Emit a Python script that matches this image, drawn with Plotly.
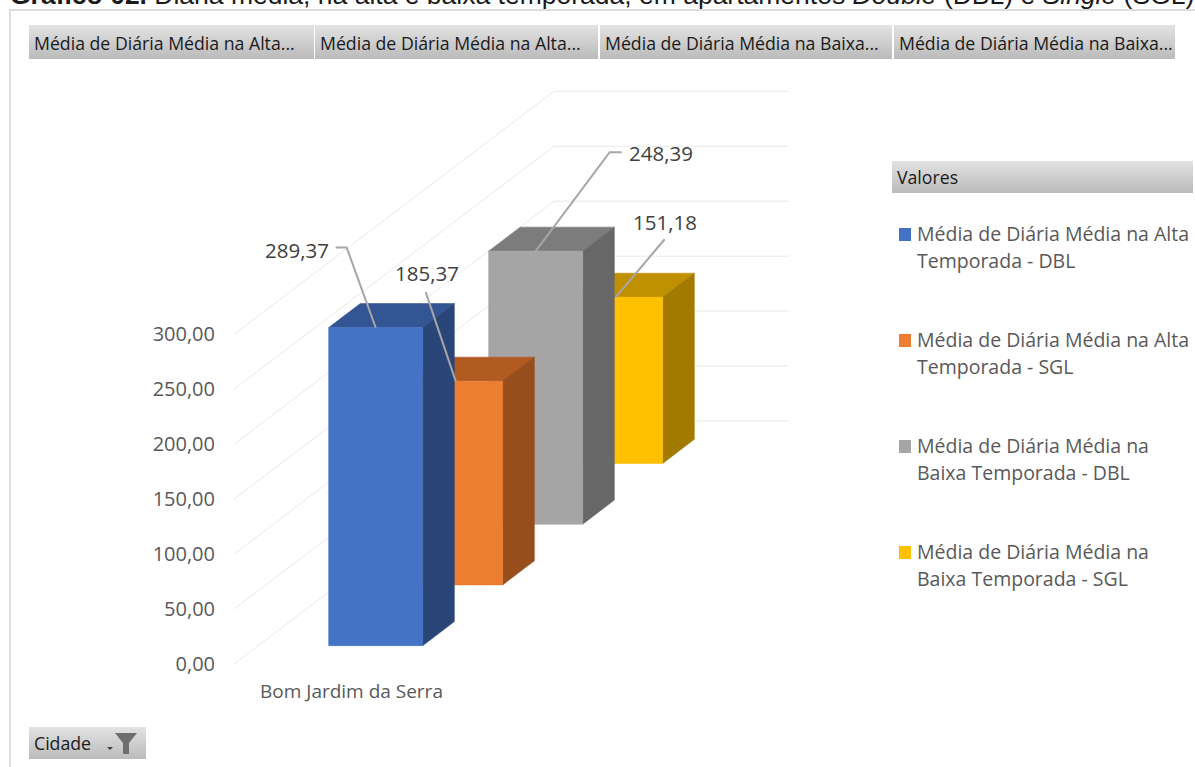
import plotly.graph_objects as go

# ---------- data ----------
categories = ["Bom Jardim da Serra"]
series_names = [
    "Média de Diária Média na Alta Temporada - DBL",
    "Média de Diária Média na Alta Temporada - SGL",
    "Média de Diária Média na Baixa Temporada - DBL",
    "Média de Diária Média na Baixa Temporada - SGL",
]
alta_dbl = [289.37]
alta_sgl = [185.37]
baixa_dbl = [248.39]
baixa_sgl = [151.18]
series_values = [alta_dbl, alta_sgl, baixa_dbl, baixa_sgl]
value_ticks = [0, 50, 100, 150, 200, 250, 300]
header_labels = [
    "Média de Diária Média na Alta...",
    "Média de Diária Média na Alta...",
    "Média de Diária Média na Baixa...",
    "Média de Diária Média na Baixa...",
]
legend_lines = [
    ["Média de Diária Média na Alta", "Temporada - DBL"],
    ["Média de Diária Média na Alta", "Temporada - SGL"],
    ["Média de Diária Média na", "Baixa Temporada - DBL"],
    ["Média de Diária Média na", "Baixa Temporada - SGL"],
]

# ---------- styles ----------
front = ["#4472C4", "#ED7D31", "#A5A5A5", "#FFC000"]
top_c = ["#335593", "#B15B22", "#7C7C7C", "#BF9000"]
side = ["#2A4678", "#974D1C", "#676767", "#A27A00"]
FONT = "Open Sans"
GREY = "#595959"
W, H = 1195, 767
PX = 1.099             # pixels per value unit
FLOOR_Y = 664          # pixel row of the value 0
X0 = 234               # left end of the floor
DEPTH_X, DEPTH_Y = 320, 243
CAT_W = 235
ROW = 0.25
BAR_D = 0.0988
BAR_U = (0.30, 0.70)
PLOT_L, PLOT_R, PLOT_T, PLOT_B = 216, 790, 80, 678


def project(u, d, v):
    return X0 + u * CAT_W + d * DEPTH_X, v + d * DEPTH_Y / PX


fig = go.Figure()

# gridlines: oblique wall and back wall
for t in value_ticks:
    a = project(0, 0, t)
    b = project(0, 1, t)
    c = project(1, 1, t)
    fig.add_trace(go.Scatter(x=[a[0], b[0], c[0]], y=[a[1], b[1], c[1]], mode="lines",
                             line=dict(color="#E9E9E9", width=1), showlegend=False, hoverinfo="skip"))

# bars from back to front
anchors = {}
for i in reversed(range(len(series_values))):
    v = series_values[i][0]
    d0 = 0.125 + ROW * i - BAR_D / 2
    d1 = d0 + BAR_D
    u0, u1 = BAR_U
    faces = [
        (top_c[i], [(u0, d0, v), (u1, d0, v), (u1, d1, v), (u0, d1, v)]),
        (side[i], [(u1, d0, 0), (u1, d1, 0), (u1, d1, v), (u1, d0, v)]),
        (front[i], [(u0, d0, 0), (u1, d0, 0), (u1, d0, v), (u0, d0, v)]),
    ]
    for color, pts in faces:
        xy = [project(*p) for p in pts + pts[:1]]
        fig.add_trace(go.Scatter(x=[p[0] for p in xy], y=[p[1] for p in xy], mode="lines",
                                 fill="toself", fillcolor=color, line=dict(color=color, width=0.6),
                                 name=series_names[i], showlegend=False, hoverinfo="name"))
    anchors[i] = project((u0 + u1) / 2, d0, v)

# data labels with leader lines (pixel offsets from the top of each bar)
leader_offsets = [
    [(-29, -80), (-40, -80)],
    [(-30, -89)],
    [(74, -99), (86, -99)],
    [(49, -58)],
]
label_offsets = [(-79, -78), (-29, -108), (125, -98), (49, -75)]
annotations = []
for i, vals in enumerate(series_values):
    ax, ay = anchors[i]
    xs = [ax] + [ax + dx for dx, dy in leader_offsets[i]]
    ys = [ay] + [ay - dy / PX for dx, dy in leader_offsets[i]]
    fig.add_trace(go.Scatter(x=xs, y=ys, mode="lines", line=dict(color="#A6A6A6", width=2),
                             showlegend=False, hoverinfo="skip"))
    dx, dy = label_offsets[i]
    annotations.append(dict(x=ax + dx, y=ay - dy / PX, xref="x", yref="y", showarrow=False,
                            text=f"{vals[0]:.2f}".replace(".", ","), xanchor="center", yanchor="middle",
                            font=dict(family=FONT, size=20.5, color="#404040")))

# ---------- page furniture ----------
shapes = []


def px_x(x):
    return x / W


def px_y(y):
    return 1 - y / H


def rect(x0, y0, x1, y1, color):
    shapes.append(dict(type="rect", xref="paper", yref="paper", x0=px_x(x0), x1=px_x(x1), y0=px_y(y0), y1=px_y(y1),
                       fillcolor=color, line=dict(width=0), layer="below"))


def band(x0, y0, x1, y1):
    c0, c1 = 0xE2, 0xBB
    n = y1 - y0
    for k in range(n):
        g = round(c0 + (c1 - c0) * k / (n - 1))
        rect(x0, y0 + k, x1, y0 + k + 1, f"#{g:02X}{g:02X}{g:02X}")


def label(x, y, text, size, color, family=FONT, anchor="left"):
    annotations.append(dict(x=px_x(x), y=px_y(y), xref="paper", yref="paper", showarrow=False, text=text,
                            xanchor=anchor, yanchor="middle", xshift=-2,
                            font=dict(family=family, size=size, color=color)))


# outer frame
rect(9, 9, W, 11, "#DDDDDD")
rect(9, 9, 11, H, "#DDDDDD")

# title, cropped by the page edge in the reference
label(10, -5, "<b>Gráfico 02.</b> Diária média, na alta e baixa temporada, em apartamentos "
              "<i>Double</i> (DBL) e <i>Single</i> (SGL)", 26.5, "#1A1A1A", "Liberation Sans")

# field buttons
header_spans = [(29, 314), (315, 598), (600, 892), (894, 1175)]
for (a, b), txt in zip(header_spans, header_labels):
    band(a, 25, b, 59)
    label(a + 5, 43, txt, 17.7, "#1A1A1A")

# legend panel
band(892, 161, 1193, 193)
label(897, 177, "Valores", 17.7, "#1A1A1A")
legend_y = [234, 340, 446, 552]
for i, lines in enumerate(legend_lines):
    y = legend_y[i]
    rect(899, y - 6, 911, y + 7, front[i])
    label(917, y - 1, lines[0], 19.5, GREY)
    label(917, y + 26, lines[1], 19.5, GREY)

# filter button
band(29, 727, 146, 759)
label(34, 743, "Cidade", 17.7, "#1A1A1A")
funnel = [(115, 733), (137, 733), (129, 743), (129, 754), (123, 754), (123, 743)]
path = "M" + " L".join(f"{px_x(x)},{px_y(y)}" for x, y in funnel) + " Z"
shapes.append(dict(type="path", xref="paper", yref="paper", path=path, fillcolor="#6E6E6E", line=dict(width=0)))
tri = [(107, 747), (113, 747), (110, 750)]
path = "M" + " L".join(f"{px_x(x)},{px_y(y)}" for x, y in tri) + " Z"
shapes.append(dict(type="path", xref="paper", yref="paper", path=path, fillcolor="#404040", line=dict(width=0)))

fig.update_layout(
    width=W, height=H, margin=dict(l=0, r=0, t=0, b=0),
    paper_bgcolor="white", plot_bgcolor="rgba(0,0,0,0)",
    showlegend=False, shapes=shapes, annotations=annotations,
    xaxis=dict(domain=[PLOT_L / W, PLOT_R / W], range=[PLOT_L, PLOT_R], showgrid=False, zeroline=False,
               showline=False, tickmode="array", tickvals=[X0 + CAT_W / 2], ticktext=categories, ticks="",
               tickfont=dict(family=FONT, size=19, color=GREY)),
    yaxis=dict(domain=[1 - PLOT_B / H, 1 - PLOT_T / H],
               range=[(FLOOR_Y - PLOT_B) / PX, (FLOOR_Y - PLOT_T) / PX], showgrid=False, zeroline=False,
               showline=False, tickmode="array", tickvals=value_ticks,
               ticktext=[f"{t:.2f}".replace(".", ",") for t in value_ticks], ticks="",
               tickfont=dict(family=FONT, size=20, color=GREY)),
)

fig.write_html("out.html", config={"displayModeBar": False},
               post_script="document.body.style.margin='0';document.documentElement.style.overflow='hidden';")
